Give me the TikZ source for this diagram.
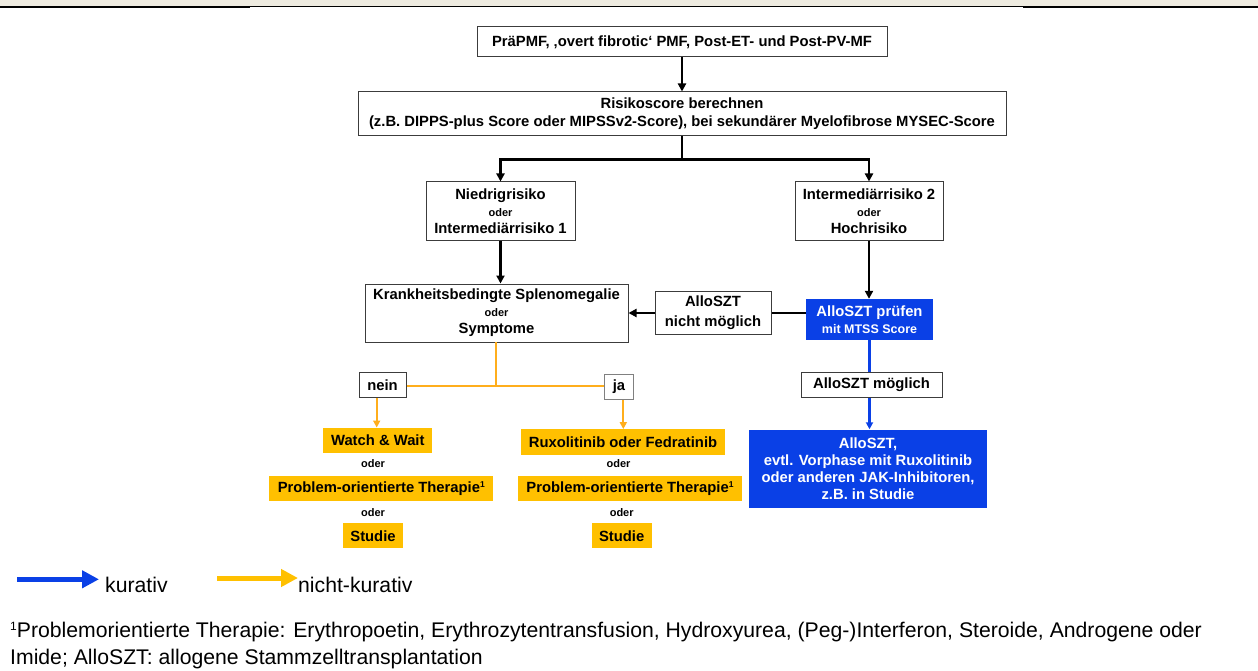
\documentclass[tikz,border=0pt]{standalone}
\usepackage{fontspec}
\setmainfont{Liberation Sans}
\usetikzlibrary{arrows.meta}
\definecolor{kblue}{RGB}{10,64,230}
\definecolor{korange}{RGB}{255,192,0}
\definecolor{kline}{RGB}{255,174,28}
\definecolor{beige}{RGB}{238,235,224}
\definecolor{bord}{RGB}{60,60,60}
\newcommand\fbig{\fontsize{14.8}{17}\selectfont\bfseries}
\newcommand\fodr{\fontsize{11}{13}\selectfont\bfseries}
\newcommand\fsup{\fontsize{8.5}{9}\selectfont\bfseries}
\newcommand\fsub{\fontsize{12.5}{13}\selectfont\bfseries}
\newcommand\fnote{\fontsize{21.2}{25}\selectfont}
\begin{document}
\begin{tikzpicture}[x=1pt,y=-1pt,
  box/.style={draw=bord, line width=1pt, fill=white, inner sep=0pt, align=center, font=\fbig},
  obox/.style={fill=korange, inner sep=0pt, align=center, font=\fbig},
  bbox/.style={fill=kblue, text=white, inner sep=0pt, align=center, font=\fbig},
  odr/.style={inner sep=0pt, font=\fodr},
  blk/.style={line width=2.5pt, black},
  blkar/.style={blk, -{Triangle[length=8pt,width=8pt]}},
  org/.style={line width=2.2pt, kline},
  orgar/.style={org, -{Triangle[length=7pt,width=7pt]}},
  blu/.style={line width=2.2pt, kblue},
  bluar/.style={blu, -{Triangle[length=7pt,width=7pt]}},
  legtext/.style={anchor=base west, inner sep=0pt, font=\fnote}
]
\useasboundingbox (0,0) rectangle (1258,671);
% top band
\fill[beige] (0,0) rectangle (1258,5.6);
\fill[black] (0,5.6) rectangle (250,7.7);
\fill[black] (1023,5.6) rectangle (1258,7.7);
\fill[black] (250,6) rectangle (1023,6.9);

% boxes
\node[box, minimum width=410pt, minimum height=30pt] (top) at (682,42) {Pr\"aPMF, \char"201A overt fibrotic\char"2018\ PMF, Post-ET- und Post-PV-MF};
\node[box, minimum width=648pt, minimum height=44pt, font=\fontsize{14.8}{18}\selectfont\bfseries] (risk) at (682,114) {Risikoscore berechnen\\(z.B. DIPPS-plus Score oder MIPSSv2-Score), bei sekund\"arer Myelofibrose MYSEC-Score};
\node[box, minimum width=149pt, minimum height=58pt] (low) at (500.5,211) {Niedrigrisiko\\{\fodr oder}\\Intermedi\"arrisiko 1};
\node[box, minimum width=148pt, minimum height=58pt] (high) at (869,211) {Intermedi\"arrisiko 2\\{\fodr oder}\\Hochrisiko};
\node[box, minimum width=263pt, minimum height=58pt] (krank) at (496.5,313) {Krankheitsbedingte Splenomegalie\\{\fodr oder}\\Symptome};
\node[box, minimum width=116pt, minimum height=43pt, font=\fontsize{14.8}{20}\selectfont\bfseries] (nicht) at (713,313) {AlloSZT\\nicht m\"oglich};
\node[bbox, minimum width=127pt, minimum height=41pt] (pruef) at (869.5,319.5) {AlloSZT pr\"ufen\\{\fsub mit MTSS Score}};
\node[box, minimum width=141pt, minimum height=25pt] (moegl) at (871.5,384.8) {AlloSZT m\"oglich};
\node[bbox, minimum width=238pt, minimum height=78pt] (allo) at (868,468.5) {AlloSZT,\\evtl. Vorphase mit Ruxolitinib\\oder anderen JAK-Inhibitoren,\\z.B. in Studie};

\node[box, minimum width=47pt, minimum height=25pt] (nein) at (382.5,384.8) {nein};
\node[box, draw=gray, minimum width=28.6pt, minimum height=25pt] (ja) at (619,386.5) {ja};

\node[obox, minimum width=109pt, minimum height=25pt] (ww) at (377.8,440.2) {Watch \& Wait};
\node[odr] (o1) at (373,464) {oder};
\node[obox, minimum width=224pt, minimum height=25pt] (poL) at (381.3,488.5) {Problem-orientierte Therapie\raisebox{4.5pt}{\fsup 1}};
\node[odr] (o2) at (373,512.3) {oder};
\node[obox, minimum width=60.6pt, minimum height=25pt] (stL) at (373,535.8) {Studie};

\node[obox, minimum width=204pt, minimum height=25.4pt] (rux) at (623,442) {Ruxolitinib oder Fedratinib};
\node[odr] (o3) at (618.5,464) {oder};
\node[obox, minimum width=223.4pt, minimum height=25pt] (poR) at (630,488.5) {Problem-orientierte Therapie\raisebox{4.5pt}{\fsup 1}};
\node[odr] (o4) at (621.7,512.3) {oder};
\node[obox, minimum width=60pt, minimum height=25pt] (stR) at (621.7,535.8) {Studie};

% black connectors
\draw[blkar] (top.south) -- (risk.north);
\coordinate (br) at ([yshift=-23pt]risk.south);
\draw[blk] (risk.south) -- (br);
\draw[blkar] (br -| low.north) -- (low.north);
\draw[blkar] (br -| high.north) -- (high.north);
\draw[blk, line cap=rect] (br -| low.north) -- (br -| high.north);
\draw[blkar] (low.south) -- (low.south |- krank.north);
\draw[blkar] (high.south) -- (high.south |- pruef.north);
\draw[blk] (pruef.west |- nicht.east) -- (nicht.east);
\draw[blkar] (nicht.west) -- (nicht.west -| krank.east);

% blue connectors
\draw[blu] (pruef.south) -- (pruef.south |- moegl.north);
\draw[bluar] (pruef.south |- moegl.south) -- (pruef.south |- allo.north);

% orange connectors
\coordinate (ks) at (496,342);
\coordinate (kj) at (496,385.7);
\draw[org] (ks) -- (kj);
\draw[org] (kj -| nein.east) -- (kj -| ja.west);
\draw[orgar] ([xshift=-5.8pt]nein.south) -- ([xshift=-5.8pt]nein.south |- ww.north);
\draw[orgar] ([xshift=4.3pt]ja.south) -- ([xshift=4.3pt]ja.south |- rux.north);

% legend
\coordinate (lb1) at (17,579.3);
\coordinate (lb2) at (99,579.3);
\draw[kblue, line width=5pt, -{Triangle[length=17pt,width=17pt]}] (lb1) -- (lb2);
\node[legtext] (lkur) at (105,592) {kurativ};
\coordinate (lo1) at (217,578);
\coordinate (lo2) at (298,578);
\draw[korange, line width=5pt, -{Triangle[length=17pt,width=17pt]}] (lo1) -- (lo2);
\node[legtext] (lnk) at (298,592) {nicht-kurativ};

% footnote
\node[legtext] (fn1) at (10,637) {\raisebox{7pt}{\fontsize{12}{12}\selectfont 1}Problemorientierte Therapie: Erythropoetin, Erythrozytentransfusion, Hydroxyurea, (Peg-)Interferon, Steroide, Androgene oder};
\node[legtext] (fn2) at (10,664) {Imide; AlloSZT: allogene Stammzelltransplantation};
\end{tikzpicture}
\end{document}
